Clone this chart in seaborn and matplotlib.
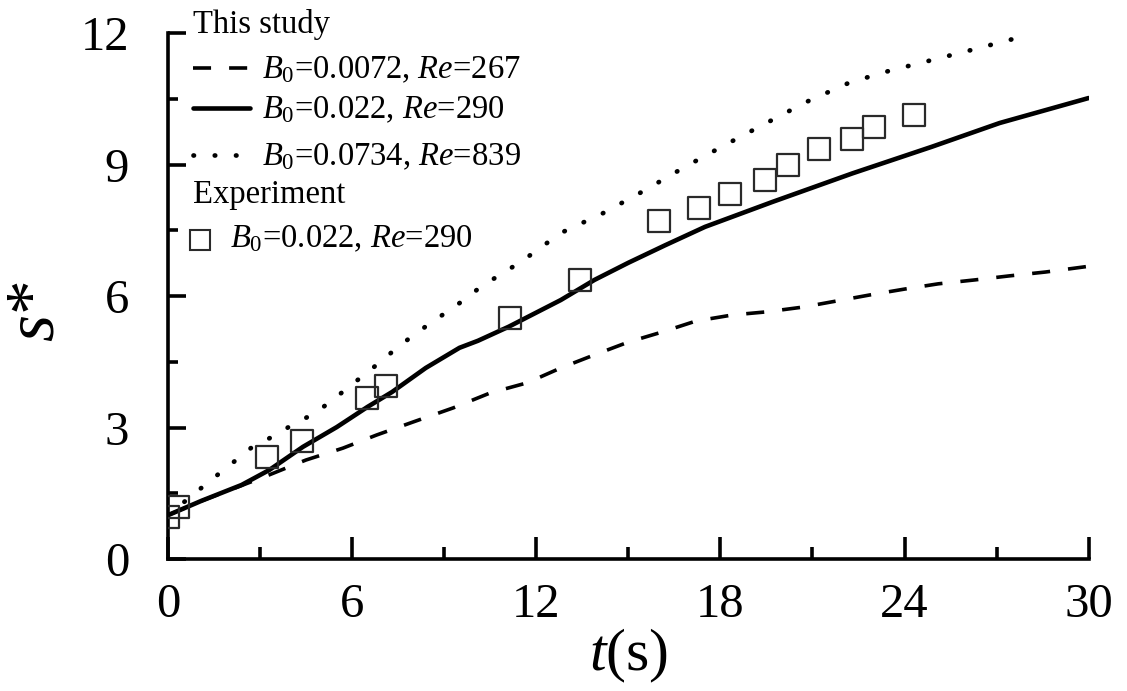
import matplotlib
matplotlib.use("Agg")
import matplotlib.pyplot as plt
from matplotlib.lines import Line2D
import seaborn as sns

sns.set_style("ticks")
plt.rcParams["font.family"] = ["Liberation Serif", "DejaVu Serif"]
plt.rcParams["mathtext.fontset"] = "custom"
plt.rcParams["mathtext.rm"] = "Liberation Serif"
plt.rcParams["mathtext.it"] = "Liberation Serif:italic"
for key in ("text.color", "axes.labelcolor", "xtick.color", "ytick.color",
            "axes.edgecolor"):
    plt.rcParams[key] = "black"

# simulation, B0=0.0072, Re=267 (dashed)
t_dash = [0, 1.0, 2.0, 3.3, 4.5, 5.7, 6.8, 8.0, 9.3, 10.5, 11.7, 12.8, 13.9,
          15.0, 16.1, 17.2, 18.4, 19.5, 20.7, 21.8, 22.9, 24.0, 25.1, 26.3,
          27.4, 28.6, 30.0]
s_dash = [1.0, 1.3, 1.57, 1.92, 2.26, 2.53, 2.83, 3.13, 3.45, 3.79, 4.02, 4.36,
          4.66, 4.95, 5.18, 5.43, 5.57, 5.64, 5.75, 5.89, 6.03, 6.16, 6.28, 6.37,
          6.46, 6.55, 6.68]

# simulation, B0=0.022, Re=290 (solid)
t_solid = [0, 1.1, 2.4, 3.3, 4.4, 5.5, 6.5, 7.3, 8.4, 9.5, 10.1, 11.1, 12.8,
           13.9, 15.0, 16.2, 17.5, 19.7, 22.3, 24.9, 27.1, 30.0]
s_solid = [1.0, 1.33, 1.69, 2.03, 2.56, 3.01, 3.47, 3.81, 4.36, 4.82, 4.98, 5.3,
           5.91, 6.37, 6.76, 7.16, 7.58, 8.15, 8.8, 9.41, 9.95, 10.52]

# simulation, B0=0.0734, Re=839 (dotted)
t_dot = [0, 0.7, 1.4, 2.1, 2.7, 3.4, 4.1, 4.8, 5.4, 6.1, 6.8, 7.5, 8.1, 8.8,
         9.5, 10.1, 10.8, 11.5, 12.8, 14.2, 15.5, 16.8, 18.1, 19.5, 20.8, 22.2,
         23.5, 24.8, 26.2, 27.5]
s_dot = [1.0, 1.4, 1.8, 2.19, 2.53, 2.79, 3.08, 3.33, 3.65, 4.04, 4.43, 4.84,
         5.16, 5.5, 5.84, 6.16, 6.48, 6.78, 7.44, 7.9, 8.4, 8.93, 9.43, 9.95,
         10.43, 10.87, 11.14, 11.37, 11.62, 11.86]

# experiment, B0=0.022, Re=290
t_exp = [0.0, 0.33, 3.22, 4.36, 6.48, 7.1, 11.14, 13.42, 16.0, 17.3, 18.3,
         19.45, 20.2, 21.2, 22.3, 23.0, 24.3]
s_exp = [0.95, 1.18, 2.33, 2.69, 3.68, 3.95, 5.5, 6.37, 7.72, 8.01, 8.33, 8.65,
         9.0, 9.35, 9.59, 9.86, 10.14]

labels = [r"$B_{\mathrm{0}}$=0.0072, $Re$=267",
          r"$B_{\mathrm{0}}$=0.022, $Re$=290",
          r"$B_{\mathrm{0}}$=0.0734, $Re$=839"]

dash_style = (0, (5, 5))
dot_style = (0, (0.1, 4.4))

fig, ax = plt.subplots(figsize=(11.27, 6.91), dpi=100)
fig.subplots_adjust(left=0.149, right=0.966, bottom=0.191, top=0.952)

sns.lineplot(x=t_dash, y=s_dash, ax=ax, color="black", lw=2.6,
             linestyle=dash_style, estimator=None, sort=False)
sns.lineplot(x=t_solid, y=s_solid, ax=ax, color="black", lw=3.3,
             estimator=None, sort=False)
sns.lineplot(x=t_dot, y=s_dot, ax=ax, color="black", lw=3.4,
             linestyle=dot_style, dash_capstyle="round", estimator=None, sort=False)
sns.scatterplot(x=t_exp, y=s_exp, ax=ax, marker="s", s=250, facecolor="none",
                edgecolor="#2a2a2a", linewidth=1.6, zorder=3)

ax.set_xlim(0, 30)
ax.set_ylim(0, 12)
ax.set_xticks(range(0, 31, 6))
ax.set_xticks(range(3, 30, 6), minor=True)
ax.set_yticks(range(0, 13, 3))
ax.set_yticks([1.5, 4.5, 7.5, 10.5], minor=True)
sns.despine(ax=ax)
for side in ("left", "bottom"):
    ax.spines[side].set_linewidth(2.6)
ax.tick_params(axis="x", which="major", direction="in", length=16, width=2.6,
               labelsize=35, pad=17)
ax.tick_params(axis="x", which="minor", direction="in", length=9, width=2.6)
ax.tick_params(axis="y", which="major", direction="in", length=13, width=2.6,
               labelsize=35, pad=28)
ax.tick_params(axis="y", which="minor", direction="in", length=7, width=2.6)

ax.set_xlabel(r"$t$(s)", fontsize=43, va="center")
ax.xaxis.set_label_coords(0.5, -0.185)
ax.set_ylabel(r"$s$*", fontsize=50, va="center")
ax.yaxis.set_label_coords(-0.143, 0.47)

# legend, drawn by hand so the group headers sit flush left
tr = ax.transAxes
hx0, hx1, tx = 0.027, 0.089, 0.102
fs = 23.5
bb = dict(facecolor="white", edgecolor="none", pad=1)
ax.text(hx0, 1.0, "This study", transform=tr, fontsize=fs, va="baseline")
rows = [(0.934, 0.9145, dash_style, 2.6, "butt"), (0.857, 0.838, "-", 3.3, "butt"),
        (0.768, 0.749, dot_style, 3.4, "round")]
for (hy, by, ls, lw, cap), lab in zip(rows, labels):
    ax.add_line(Line2D([hx0, hx1], [hy, hy], transform=tr, color="black",
                       lw=lw, linestyle=ls, dash_capstyle=cap,
                       clip_on=False))
    ax.text(tx, by, lab, transform=tr, fontsize=fs, va="baseline", bbox=bb,
            zorder=4)
ax.text(hx0, 0.677, "Experiment", transform=tr, fontsize=fs, va="baseline")
ax.add_line(Line2D([0.0347], [0.606], transform=tr, marker="s", ms=14,
                   mfc="none", mec="#2a2a2a", mew=1.5, clip_on=False))
ax.text(0.0673, 0.593, labels[1], transform=tr, fontsize=fs, va="baseline",
        bbox=bb, zorder=4)

fig.savefig("out.png", dpi=100, facecolor="white")
